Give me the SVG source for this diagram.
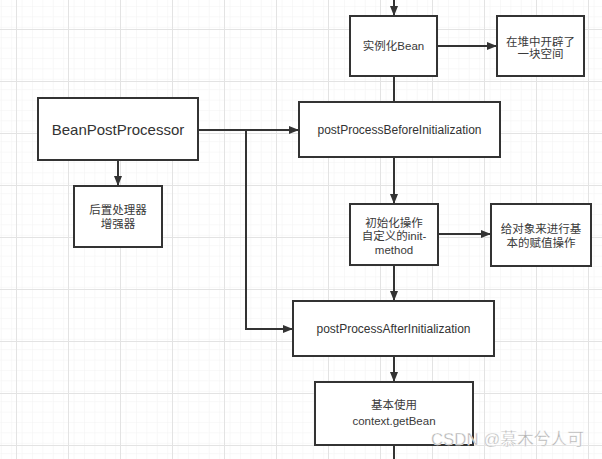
<svg xmlns="http://www.w3.org/2000/svg" width="602" height="459" viewBox="0 0 602 459">
<defs>
<pattern id="minor" x="16" y="29" width="10.4" height="10.4" patternUnits="userSpaceOnUse">
<path d="M0 0H10.4M0 0V10.4" fill="none" stroke="#f2f2f2" stroke-width="1"/>
</pattern>
<pattern id="major" x="16" y="29" width="52" height="52" patternUnits="userSpaceOnUse">
<rect width="52" height="52" fill="url(#minor)"/>
<path d="M0 0.5H52M0.5 0V52" fill="none" stroke="#e3e3e3" stroke-width="1"/>
</pattern>
<marker id="arr" markerWidth="10" markerHeight="8" refX="9" refY="4" orient="auto" markerUnits="userSpaceOnUse">
<path d="M0 0L10 4L0 8Z" fill="#333"/>
</marker>
<style>
.box{fill:#fff;stroke:#333;stroke-width:2}
.edge{fill:none;stroke:#333;stroke-width:2}
.t{font-family:"Liberation Sans","Noto Sans CJK SC",sans-serif;font-size:11.5px;fill:#3a3a3a;text-anchor:middle}
.lt{font-family:"Liberation Sans","Noto Sans CJK SC",sans-serif;font-size:12px;fill:#333;text-anchor:middle}
.big{font-family:"Liberation Sans","Noto Sans CJK SC",sans-serif;font-size:15px;fill:#333;text-anchor:middle}
.wm{font-family:"Liberation Sans","Noto Sans CJK SC",sans-serif;font-size:16.8px;fill:#b0b0b0;stroke:#fff;stroke-width:0.4}
</style>
</defs>
<rect width="602" height="459" fill="#fff"/>
<rect width="602" height="459" fill="url(#major)"/>

<g id="connectors">
<path class="edge" d="M394 0V15" marker-end="url(#arr)"/>
<path class="edge" d="M437 46H496" marker-end="url(#arr)"/>
<path class="edge" d="M394 76V102"/>
<path class="edge" d="M198 130H298" marker-end="url(#arr)"/>
<path class="edge" d="M246 130V329H292" marker-end="url(#arr)"/>
<path class="edge" d="M118 160V185" marker-end="url(#arr)"/>
<path class="edge" d="M394 157V203" marker-end="url(#arr)"/>
<path class="edge" d="M438 234H490" marker-end="url(#arr)"/>
<path class="edge" d="M394 265V300" marker-end="url(#arr)"/>
<path class="edge" d="M394 356V381" marker-end="url(#arr)"/>
<path class="edge" d="M394 445V459"/>
</g>

<g id="instantiate">
<rect class="box" x="350" y="16" width="87" height="60"/>
<text class="t" x="393.5" y="50">实例化Bean</text>
</g>
<g id="heap">
<rect class="box" x="497" y="16" width="87" height="60"/>
<text class="t" x="540.5" y="45.5">在堆中开辟了</text>
<text class="t" x="540.5" y="58">一块空间</text>
</g>
<g id="bpp">
<rect class="box" x="38" y="98" width="160" height="62"/>
<text class="big" x="118" y="135">BeanPostProcessor</text>
</g>
<g id="before">
<rect class="box" x="299" y="102" width="201" height="55"/>
<text class="lt" x="399.5" y="134">postProcessBeforeInitialization</text>
</g>
<g id="enhancer">
<rect class="box" x="74" y="186" width="88" height="61"/>
<text class="t" x="118" y="214">后置处理器</text>
<text class="t" x="118" y="228">增强器</text>
</g>
<g id="init">
<rect class="box" x="350" y="204" width="88" height="61"/>
<text class="t" x="394" y="227">初始化操作</text>
<text class="t" x="394" y="240">自定义的init-</text>
<text class="t" x="394" y="253.5">method</text>
</g>
<g id="assign">
<rect class="box" x="491" y="204" width="100" height="62"/>
<text class="t" x="541" y="233">给对象来进行基</text>
<text class="t" x="541" y="246.5">本的赋值操作</text>
</g>
<g id="after">
<rect class="box" x="293" y="301" width="201" height="55"/>
<text class="lt" x="393.5" y="333">postProcessAfterInitialization</text>
</g>
<g id="use">
<rect class="box" x="315" y="382" width="158" height="63"/>
<text class="t" x="394" y="409">基本使用</text>
<text class="t" x="394" y="425">context.getBean</text>
</g>
<text class="wm" x="431" y="445">CSDN @慕木兮人可</text>
</svg>
